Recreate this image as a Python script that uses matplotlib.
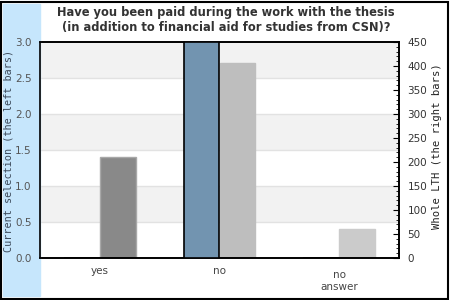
import matplotlib.pyplot as plt
from matplotlib.patches import Rectangle
from matplotlib.ticker import MultipleLocator
from matplotlib.transforms import ScaledTranslation

categories = ['yes', 'no', 'no\nanswer']
current = [0, 3.0, 0]
whole_lth = [210, 406, 60]
right_colors = ['#898989', '#bebebe', '#cbcbcb']
right_edges = ['#a8a8a8', '#bebebe', '#cbcbcb']

fig = plt.figure(figsize=(4.5, 3), dpi=100)

# light blue band on the left and the black frame
fig.patches.append(Rectangle((3 / 450, 4 / 300), 37 / 450, 292 / 300,
                             transform=fig.transFigure, color='#c6e6fc', zorder=0))
fig.patches.append(Rectangle((1 / 450, 1 / 300), 447 / 450, 297 / 300,
                             transform=fig.transFigure, fill=False,
                             edgecolor='black', linewidth=1.5, zorder=5))

# ax2 (right scale) sits underneath and carries the background bands
ax = fig.add_axes([40 / 450, 42 / 300, 359 / 450, 216 / 300])
ax2 = ax.twinx()
ax2.set_zorder(0)
ax.set_zorder(1)
ax.patch.set_visible(False)

ax.set_xlim(-0.5, 2.5)
ax.set_ylim(0, 3.0)
ax2.set_ylim(0, 450)
for i in range(6):
    if i % 2 == 1:
        ax2.axhspan(i * 75, (i + 1) * 75, color='#f2f2f2', zorder=0, linewidth=0)
    if i > 0:
        ax2.axhline(i * 75, color='#e2e2e2', linewidth=1, zorder=0.5)

x = range(len(categories))
w = 0.3
ax2.bar([i + w / 2 for i in x], whole_lth, width=w, color=right_colors,
        edgecolor=right_edges, linewidth=1, zorder=2)
ax.bar([i - w / 2 for i in x], current, width=w, color='#7294b0',
       edgecolor='black', linewidth=1.2, zorder=3)

ax.yaxis.set_major_locator(MultipleLocator(0.5))
ax.tick_params(axis='y', length=0, pad=6, labelsize=7.5, labelcolor='#555555')
ax.set_xticks(list(x))
ax.set_xticklabels(categories)
ax.tick_params(axis='x', length=0, pad=6, labelsize=7.5, labelcolor='#444444')
lab = ax.get_xticklabels()[2]
lab.set_transform(lab.get_transform() + ScaledTranslation(0, -0.04, fig.dpi_scale_trans))

ax2.yaxis.set_major_locator(MultipleLocator(50))
ax2.yaxis.set_minor_locator(MultipleLocator(10))
ax2.tick_params(axis='y', which='major', direction='in', length=4, pad=6,
                labelsize=7.5, labelcolor='#333333')
ax2.tick_params(axis='y', which='minor', direction='in', length=2.5)

for a in (ax, ax2):
    for s in a.spines.values():
        s.set_linewidth(1.2)
        s.set_color('black')

fig.text(8.5 / 450, 149 / 300, 'Current selection (the left bars)',
         rotation=90, ha='center', va='center', family='DejaVu Sans Mono',
         fontsize=7.3, color='#3c4a5a')
fig.text(437 / 450, 154 / 300, 'Whole LTH (the right bars)',
         rotation=90, ha='center', va='center', family='DejaVu Sans Mono',
         fontsize=7.6, color='#222222')

fig.text(0.502, 1 - 20 / 300,
         'Have you been paid during the work with the thesis\n(in addition to financial aid for studies from CSN)?',
         ha='center', va='center', fontsize=8.3, fontweight='bold',
         color='#333333', linespacing=1.15)

fig.savefig('out.png', dpi=100)
